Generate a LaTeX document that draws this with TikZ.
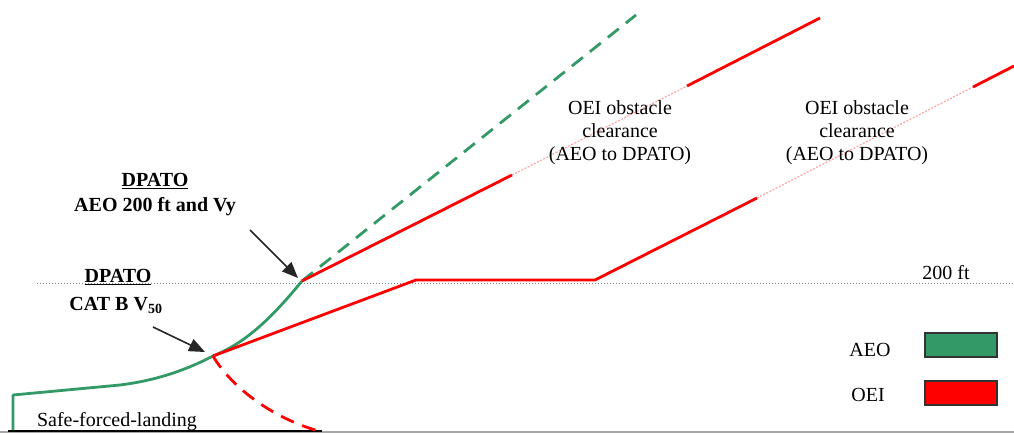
\documentclass[tikz,border=0pt]{standalone}
\usepackage{fontspec}
\setmainfont{Liberation Serif}
\usetikzlibrary{arrows.meta}
\definecolor{aeo}{RGB}{51,153,102}
\definecolor{oei}{RGB}{255,0,0}
\tikzset{
  aeoline/.style={aeo, line width=2.8pt},
  oeiline/.style={oei, line width=2.8pt},
  faint/.style={oei!35, line width=1.2pt, dash pattern=on 2pt off 1.5pt},
  lbl/.style={font=\fontsize{20}{23}\selectfont, align=center, inner sep=0pt},
  blbl/.style={font=\fontsize{20}{23}\selectfont\bfseries, align=center, inner sep=0pt},
  pointer/.style={-{Triangle[length=16pt,width=13pt]}, line width=1.6pt, black!85},
  legbox/.style={draw=black!80, line width=1.4pt}
}
\begin{document}
\begin{tikzpicture}[x=1pt,y=-1pt]
\useasboundingbox (0,0) rectangle (1014,434);
% ground
\draw[gray!70, line width=2pt] (0,432) -- (1014,432);
\draw[black, line width=2.8pt] (8,431) -- (322,431);
% 200 ft dotted line
\coordinate (dl) at (37,283);
\coordinate (dr) at (1014,283);
\draw[gray, line width=1pt, dotted] (dl) -- (dr);
% key points
\coordinate (g0) at (13,430);
\coordinate (g1) at (13,395);
\coordinate (g2) at (120,385);
\coordinate (v50) at (213,356);
\coordinate (vy) at (302,281);
\coordinate (gend) at (636,15);
\coordinate (r1a) at (512,175);
\coordinate (r1b) at (687,86);
\coordinate (r1end) at (820,18);
\coordinate (h1) at (416,280);
\coordinate (h2) at (595,280);
\coordinate (r2a) at (757,198);
\coordinate (r2b) at (973,87);
\coordinate (r2end) at (1014,66);
\coordinate (dend) at (322,432);
% AEO path
\draw[aeoline, line join=round] (g0) -- (g1) -- (g2)
  .. controls (160,380) and (190,368) .. (v50)
  .. controls (245,343) and (270,320) .. (vy);
\draw[aeoline, dash pattern=on 14pt off 9pt] (vy) -- (gend);
% OEI lines
\draw[oeiline] (vy) -- (r1a);
\draw[faint] (r1a) -- (r1b);
\draw[oeiline] (r1b) -- (r1end);
\draw[oeiline, line join=round] (v50) -- (h1) -- (h2) -- (r2a);
\draw[faint] (r2a) -- (r2b);
\draw[oeiline] (r2b) -- (r2end);
\draw[oeiline, dash pattern=on 14pt off 9pt] (v50) .. controls (230,385) and (270,418) .. (dend);
% texts
\node[blbl] (t1) at (155,181) {\underline{DPATO}};
\node[blbl] (t2) at (155,207) {AEO 200 ft and Vy};
\node[blbl] (t3) at (118,277) {\underline{DPATO}};
\node[blbl] (t4) at (116,305) {CAT B V\textsubscript{50}};
\node[lbl, anchor=base] (sfl) at (117,426) {Safe-forced-landing};
\node[lbl] (o1) at (620,133) {OEI obstacle\\clearance\\(AEO to DPATO)};
\node[lbl] (o2) at (857,133) {OEI obstacle\\clearance\\(AEO to DPATO)};
\node[lbl, anchor=base] (ft) at (946,279) {200 ft};
% arrows
\coordinate (a1s) at (250,230);
\coordinate (a2s) at (153,327);
\draw[pointer] (a1s) -- (298,278);
\draw[pointer] (a2s) -- (205,352);
% legend
\node[lbl] (la) at (870,350) {AEO};
\node[lbl] (lo) at (868,395) {OEI};
\draw[legbox, fill=aeo] (925,333) rectangle (997,357);
\draw[legbox, fill=oei] (925,381) rectangle (997,405);
\end{tikzpicture}
\end{document}
